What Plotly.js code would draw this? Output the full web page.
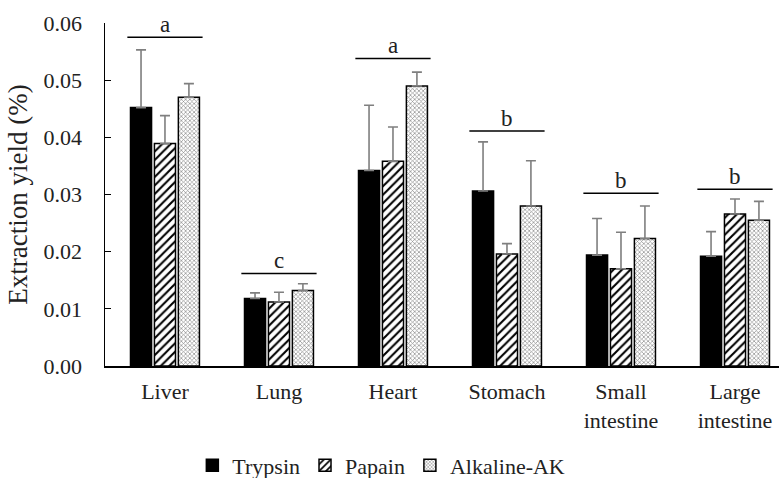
<!DOCTYPE html>
<html>
<head>
<meta charset="utf-8">
<script src="https://cdn.plot.ly/plotly-3.0.1.min.js"></script>
<style>html,body{margin:0;padding:0;background:#fff;}#chart{width:779px;height:478px;}</style>
</head>
<body>
<div id="chart"></div>
<script>
var categories = ['Liver', 'Lung', 'Heart', 'Stomach', 'Small<br>intestine', 'Large<br>intestine'];
var seriesNames = ['Trypsin', 'Papain', 'Alkaline-AK'];
var trypsin = [0.0452, 0.0118, 0.0342, 0.0306, 0.0194, 0.0192];
var trypsinErr = [0.0101, 0.0010, 0.0114, 0.0086, 0.0064, 0.0043];
var papain = [0.0389, 0.0112, 0.0358, 0.0196, 0.0170, 0.0266];
var papainErr = [0.0049, 0.0017, 0.0060, 0.0018, 0.0064, 0.0026];
var alkaline = [0.0470, 0.0132, 0.0490, 0.0280, 0.0223, 0.0255];
var alkalineErr = [0.0024, 0.0012, 0.0024, 0.0079, 0.0057, 0.0033];
var sigLetters = ['a', 'c', 'a', 'b', 'b', 'b'];
var sigLevels = [0.0575, 0.0162, 0.0538, 0.0411, 0.0302, 0.0309];
var yTicks = [0, 0.01, 0.02, 0.03, 0.04, 0.05, 0.06];

var FONT = 'Liberation Serif';
var zeros = categories.map(function(){return 0;});
function errObj(arr){
  return {type:'data', symmetric:false, array:arr, arrayminus:zeros, color:'#7f7f7f', thickness:1.6, width:5};
}
var traces = [
  {type:'bar', name:seriesNames[0], x:categories, y:trypsin, error_y:errObj(trypsinErr),
   marker:{color:'#000', line:{color:'#000', width:1.5}}},
  {type:'bar', name:seriesNames[1], x:categories, y:papain, error_y:errObj(papainErr),
   marker:{color:'#fff', line:{color:'#000', width:1.5}, pattern:{shape:'/', fgcolor:'#000', bgcolor:'#fff', size:6, solidity:0.35}}},
  {type:'bar', name:seriesNames[2], x:categories, y:alkaline, error_y:errObj(alkalineErr),
   marker:{color:'#fff', line:{color:'#000', width:1.5}, pattern:{shape:'x', fgcolor:'#8a8a8a', bgcolor:'#fff', size:3, solidity:0.4}}}
];

var shapes = [], annotations = [];
categories.forEach(function(c, i){
  shapes.push({type:'line', xref:'x', yref:'y', x0:i-0.33, x1:i+0.33, y0:sigLevels[i], y1:sigLevels[i], line:{color:'#000', width:1.5}});
  annotations.push({xref:'x', yref:'y', x:i, y:sigLevels[i], text:sigLetters[i], showarrow:false, yanchor:'bottom', yshift:-2, font:{family:FONT, size:23, color:'#222'}});
});

var layout = {
  width:779, height:478,
  margin:{l:105, r:0, t:23, b:112, autoexpand:false},
  paper_bgcolor:'#fff', plot_bgcolor:'#fff',
  font:{family:FONT, size:22},
  barmode:'group', bargap:0.37, bargroupgap:0.12,
  showlegend:true,
  legend:{orientation:'h', x:0.41, xanchor:'center', y:-0.29, yanchor:'middle', font:{family:FONT, size:22}, itemwidth:30, traceorder:'normal'},
  xaxis:{type:'category', range:[-0.526, 5.386], showline:true, linecolor:'#000', linewidth:1.5, ticks:'', showgrid:false, zeroline:false, tickfont:{family:FONT, size:22}, ticklabelstandoff:5},
  yaxis:{range:[0, 0.06], tickvals:yTicks, ticktext:yTicks.map(function(v){return v.toFixed(2);}), showline:true, linecolor:'#000', linewidth:1.5, ticks:'inside', ticklen:6, tickcolor:'#000', showgrid:false, zeroline:false, tickfont:{family:FONT, size:22}, ticklabelstandoff:17,
    title:{text:'Extraction yield (%)', font:{family:FONT, size:27, color:'#222'}, standoff:8}},
  shapes:shapes, annotations:annotations
};
Plotly.newPlot('chart', traces, layout, {displayModeBar:false, staticPlot:true}).then(function(gd){
  var texts = gd.querySelectorAll('.xtick text, .ytick text, .legendtext');
  for (var i = 0; i < texts.length; i++) { texts[i].style.fill = '#222'; }
});
</script>
</body>
</html>
